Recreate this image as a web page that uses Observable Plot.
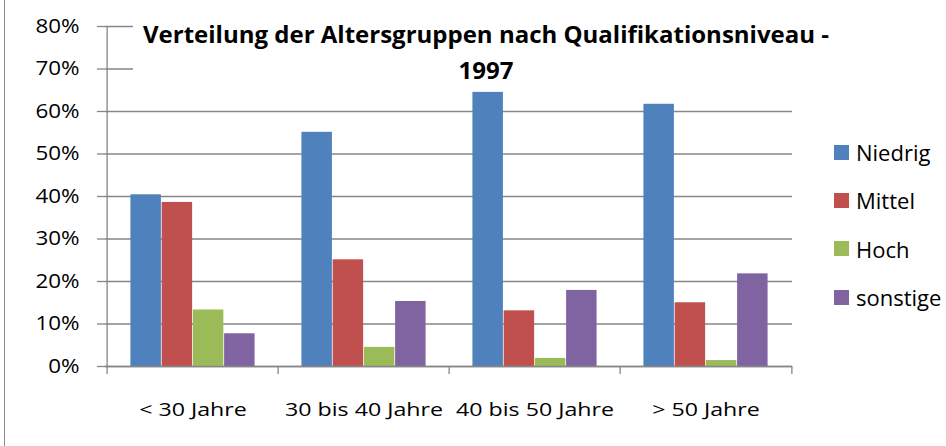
<!DOCTYPE html>
<html>
<head>
<meta charset="utf-8">
<script src="https://cdn.jsdelivr.net/npm/d3@7"></script>
<script src="https://cdn.jsdelivr.net/npm/@observablehq/plot@0.6"></script>
<style>
  html, body { margin: 0; padding: 0; background: #fff; }
  #wrap { position: relative; width: 946px; height: 446px; overflow: hidden; font-family: "Open Sans", sans-serif; }
  #chart { position: absolute; left: 0; top: 0; }
  #border { position: absolute; left: 4px; top: 0; width: 0; height: 446px; border-left: 1.3px solid #8c8c8c; }
  #title { position: absolute; left: 133px; top: 16px; width: 706px; background: #fff; text-align: center;
           font-weight: bold; font-size: 24px; line-height: 36px; color: #000; }
  #legend { position: absolute; left: 834px; top: 128px; }
  .row { display: flex; align-items: center; height: 48.3px; font-size: 22px; color: #000; }
  .sw { width: 15px; height: 15px; margin-right: 7px; }
</style>
</head>
<body>
<div id="wrap">
  <div id="chart"></div>
  <div id="border"></div>
  <div id="title"></div>
  <div id="legend"></div>
</div>
<script>
const titleLines = ["Verteilung der Altersgruppen nach Qualifikationsniveau -", "1997"];
const categories = ["< 30 Jahre", "30 bis 40 Jahre", "40 bis 50 Jahre", "> 50 Jahre"];
const levels = ["Niedrig", "Mittel", "Hoch", "sonstige"];
const colors = ["#4F81BD", "#C0504D", "#9BBB59", "#8064A2"];
const niedrig  = [0.404, 0.551, 0.645, 0.617];
const mittel   = [0.386, 0.251, 0.131, 0.150];
const hoch     = [0.133, 0.045, 0.019, 0.014];
const sonstige = [0.077, 0.153, 0.179, 0.218];
const yTicks = [0, 0.1, 0.2, 0.3, 0.4, 0.5, 0.6, 0.7, 0.8];

const series = [niedrig, mittel, hoch, sonstige];
const data = [];
levels.forEach((lv, k) => categories.forEach((c, i) => data.push({cat: c, level: lv, k, value: series[k][i]})));

const W = 946, H = 446, mL = 105, mR = 154, mT = 26, mB = 80;
const bw = (W - mL - mR) / categories.length;   // band width
const barW = bw / (levels.length + 1.5);         // Excel gap width 150%
const gap = 0.75 * barW;
const gray = "#868686";

const barMarks = levels.map((lv, k) =>
  Plot.barY(data.filter(d => d.k === k), {
    x: "cat", y: "value", fill: colors[k],
    insetLeft: gap + k * barW,
    insetRight: bw - gap - (k + 1) * barW
  })
);

const plot = Plot.plot({
  width: W, height: H,
  marginLeft: mL, marginRight: mR, marginTop: mT, marginBottom: mB,
  style: {fontFamily: "Open Sans", background: "transparent", color: "#000"},
  x: {domain: categories, padding: 0, label: null},
  y: {domain: [0, 0.8], label: null},
  marks: [
    Plot.gridY(yTicks, {stroke: gray, strokeOpacity: 1, strokeWidth: 1.3}),
    ...barMarks,
    Plot.ruleY([0], {stroke: gray, strokeWidth: 1.3}),
    Plot.ruleX([categories[0]], {dx: -bw / 2, stroke: gray, strokeWidth: 1.3}),
    Plot.ruleX(categories, {y1: 0, y2: 0, insetBottom: -8, dx: -bw / 2, stroke: gray, strokeWidth: 1.3}),
    Plot.ruleX([categories[categories.length - 1]], {y1: 0, y2: 0, insetBottom: -8, dx: bw / 2, stroke: gray, strokeWidth: 1.3}),
    Plot.axisY({ticks: yTicks, tickFormat: d3.format(".0%"), tickSize: 8, tickPadding: 18, fontSize: 20, stroke: gray, strokeWidth: 1.3, fill: "#000", label: null}),
    Plot.axisX({tickSize: 0, tickPadding: 36, fontSize: 19, fill: "#000", label: null})
  ]
});
document.getElementById("chart").appendChild(plot);

function stretch(selector, f) {
  plot.querySelectorAll(selector).forEach(t => {
    const w = t.getComputedTextLength();
    t.setAttribute("textLength", w * f);
    t.setAttribute("lengthAdjust", "spacingAndGlyphs");
  });
}
stretch('g[aria-label="x-axis tick label"] text', 1.22);
stretch('g[aria-label="y-axis tick label"] text', 1.12);

document.getElementById("title").innerHTML = titleLines.map(s => `<div>${s}</div>`).join("");
const legend = document.getElementById("legend");
levels.forEach((lv, k) => {
  const row = document.createElement("div");
  row.className = "row";
  row.innerHTML = `<div class="sw" style="background:${colors[k]}"></div><span>${lv}</span>`;
  legend.appendChild(row);
});
</script>
</body>
</html>
